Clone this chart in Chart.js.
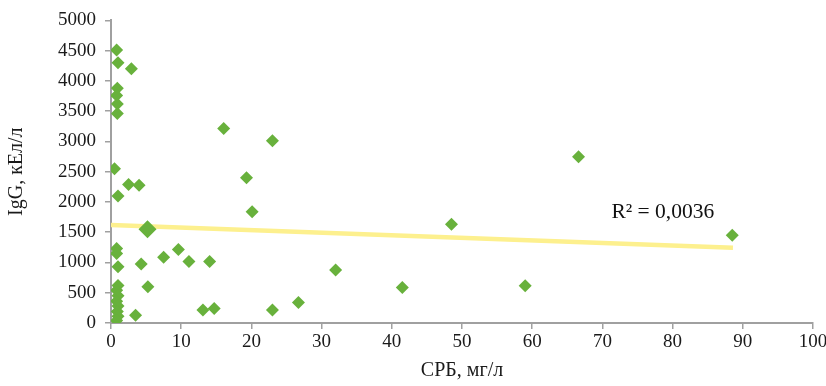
<!DOCTYPE html>
<html>
<head>
<meta charset="utf-8">
<script src="https://cdn.jsdelivr.net/npm/chart.js@4/dist/chart.umd.min.js"></script>
<style>
  html, body { margin: 0; padding: 0; background: #ffffff; }
  #wrap { width: 826px; height: 386px; position: relative; }
</style>
</head>
<body>
<div id="wrap"><canvas id="c" width="826" height="386"></canvas></div>
<script>
// CRP (mg/L) values of the observations
const crpValues = [
  0.8, 1.0, 2.9, 0.9, 0.8, 0.9, 0.9,
  0.5, 2.5, 4.0, 1.0,
  0.8, 0.8, 1.0, 4.3, 7.5, 9.6, 11.1, 14.05,
  5.25, 3.5, 13.1, 14.7,
  1.0, 0.8, 1.0, 0.8, 1.0, 0.9, 1.0, 0.8,
  16.05, 23.0, 19.3, 20.1,
  23.0, 26.7, 32.0,
  66.6, 48.5, 88.5, 59.0, 41.5
];
// IgG (kU/L) values of the observations
const iggValues = [
  4510, 4300, 4200, 3880, 3760, 3620, 3460,
  2550, 2290, 2275, 2100,
  1230, 1150, 930, 975, 1085, 1215, 1015, 1015,
  600, 130, 215, 240,
  620, 540, 450, 360, 280, 190, 110, 40,
  3215, 3010, 2400, 1840,
  215, 340, 875,
  2745, 1630, 1450, 615, 585
];
// highlighted point
const highlightX = [5.2];
const highlightY = [1550];
// linear trend line end points
const trendX = [0, 88.6];
const trendY = [1620, 1245];
// axis ticks
const xTicks = [0, 10, 20, 30, 40, 50, 60, 70, 80, 90, 100];
const yTicks = [0, 500, 1000, 1500, 2000, 2500, 3000, 3500, 4000, 4500, 5000];
const r2Text = 'R\u00B2 = 0,0036';

const FONT = "'Liberation Serif', 'DejaVu Serif', serif";
const GREEN = '#68b13c';

const pts = crpValues.map((x, i) => ({ x: x, y: iggValues[i] }));
const hl = highlightX.map((x, i) => ({ x: x, y: highlightY[i] }));
const tr = trendX.map((x, i) => ({ x: x, y: trendY[i] }));

const r2Plugin = {
  id: 'r2label',
  afterDatasetsDraw(chart) {
    const { ctx, scales } = chart;
    const px = scales.x.getPixelForValue(78.6);
    const py = scales.y.getPixelForValue(1740);
    ctx.save();
    ctx.font = "21.5px " + FONT;
    ctx.fillStyle = '#111';
    ctx.textAlign = 'center';
    ctx.textBaseline = 'alphabetic';
    ctx.fillText(r2Text, px, py);
    ctx.restore();
  }
};

new Chart(document.getElementById('c'), {
  type: 'scatter',
  data: {
    datasets: [
      {
        label: 'highlight',
        data: hl,
        pointStyle: 'rectRot',
        pointRadius: 9,
        backgroundColor: GREEN,
        borderColor: GREEN,
        borderWidth: 0,
        order: 0
      },
      {
        label: 'IgG',
        data: pts,
        pointStyle: 'rectRot',
        pointRadius: 6.5,
        backgroundColor: GREEN,
        borderColor: GREEN,
        borderWidth: 0,
        order: 1
      },
      {
        type: 'line',
        label: 'trend',
        data: tr,
        showLine: true,
        pointRadius: 0,
        borderColor: '#fdf08e',
        borderWidth: 4.5,
        fill: false,
        order: 3
      }
    ]
  },
  options: {
    responsive: false,
    animation: false,
    events: [],
    layout: { padding: { top: 9, right: 0, left: 0, bottom: 0 } },
    plugins: { legend: { display: false }, tooltip: { enabled: false } },
    scales: {
      x: {
        type: 'linear',
        min: xTicks[0],
        max: xTicks[xTicks.length - 1],
        afterBuildTicks: s => { s.ticks = xTicks.map(v => ({ value: v })); },
        afterFit: s => { s.height = 63; s.paddingRight = 13; },
        grid: { display: true, drawOnChartArea: false, drawTicks: true, tickLength: 6, color: '#a0a0a0', lineWidth: 1.5 },
        border: { display: true, color: '#a0a0a0', width: 2 },
        ticks: { padding: 2, color: '#1a1a1a', font: { family: FONT, size: 19 }, maxRotation: 0, autoSkip: false, callback: v => String(v) },
        title: { display: true, text: 'СРБ, мг/л', color: '#1a1a1a', font: { family: FONT, size: 20 }, padding: { top: 0, bottom: 3 } }
      },
      y: {
        type: 'linear',
        min: yTicks[0],
        max: yTicks[yTicks.length - 1],
        afterBuildTicks: s => { s.ticks = yTicks.map(v => ({ value: v })); },
        afterFit: s => { s.width = 111; },
        grid: { display: true, drawOnChartArea: false, drawTicks: true, tickLength: 6, color: '#a0a0a0', lineWidth: 1.5 },
        border: { display: true, color: '#a0a0a0', width: 2 },
        ticks: { padding: 9, color: '#1a1a1a', font: { family: FONT, size: 19 }, autoSkip: false, callback: v => String(v) },
        title: { display: true, text: 'IgG, кЕл/л', color: '#1a1a1a', font: { family: FONT, size: 20 }, padding: { top: 5, bottom: 0 } }
      }
    }
  },
  plugins: [r2Plugin]
});
</script>
</body>
</html>
